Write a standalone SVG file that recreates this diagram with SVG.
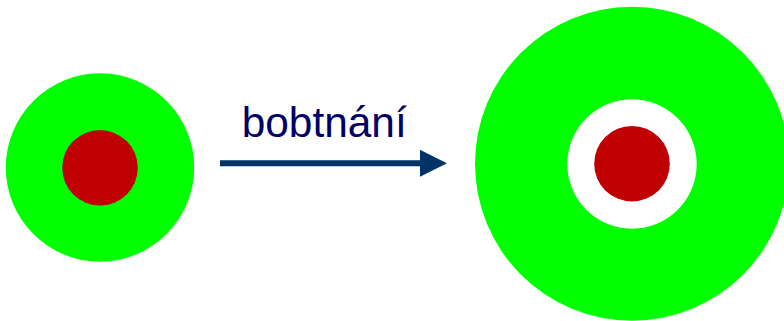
<svg xmlns="http://www.w3.org/2000/svg" width="784" height="321" viewBox="0 0 784 321">
  <style>
    .green { fill: #00ff00; }
    .red { fill: #c00000; }
    .white { fill: #ffffff; }
    .label { font-family: "Liberation Sans", Arial, sans-serif; font-size: 43px; fill: #000066; }
    .conn { stroke: #003366; stroke-width: 6; fill: none; }
  </style>
  <defs>
    <marker id="arrow" markerUnits="userSpaceOnUse" markerWidth="28" markerHeight="28" refX="5" refY="13.5" orient="auto">
      <path d="M0,0 L27,13.5 L0,27 Z" fill="#003366"/>
    </marker>
  </defs>
  <rect width="784" height="321" fill="#ffffff"/>
  <g id="cell-before">
    <circle class="green" cx="100" cy="167.5" r="94.2"/>
    <circle class="red" cx="100" cy="167.8" r="37.8"/>
  </g>
  <g id="cell-after">
    <circle class="green" cx="632" cy="163.7" r="157"/>
    <circle class="white" cx="632" cy="164" r="64.7"/>
    <circle class="red" cx="632" cy="163.7" r="37.8"/>
  </g>
  <g id="connectors">
    <line class="conn" x1="220" y1="163.3" x2="425" y2="163.3" marker-end="url(#arrow)"/>
    <text class="label" x="241.7" y="136.7" textLength="165" lengthAdjust="spacingAndGlyphs">bobtnání</text>
  </g>
</svg>
